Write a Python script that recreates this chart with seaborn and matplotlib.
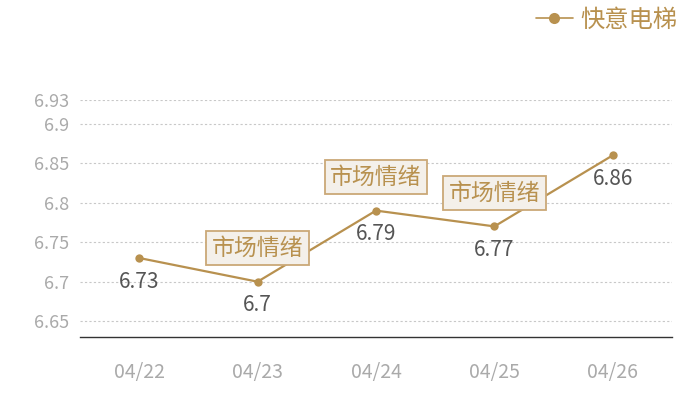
import matplotlib
matplotlib.use("Agg")
import matplotlib.pyplot as plt
import seaborn as sns
import pandas as pd
from matplotlib.lines import Line2D

dates = ["04/22", "04/23", "04/24", "04/25", "04/26"]
values = [6.73, 6.70, 6.79, 6.77, 6.86]
series_name = "快意电梯"
yticks = [6.65, 6.7, 6.75, 6.8, 6.85, 6.9, 6.93]
ytick_labels = ["6.65", "6.7", "6.75", "6.8", "6.85", "6.9", "6.93"]
note_dates = ["04/23", "04/24", "04/25"]
note_text = "市场情绪"

sns.set_theme(style="white")
plt.rcParams['font.family'] = ['Noto Sans CJK SC', 'DejaVu Sans']

gold = "#b8914f"
df = pd.DataFrame({"date": dates, "value": values, "series": series_name})
df["x"] = range(len(dates))

fig = plt.figure(figsize=(7, 4), dpi=100)
ax = fig.add_axes([80/700, 63/400, 592/700, 237/400])

sns.lineplot(data=df, x="x", y="value", hue="series", palette=[gold], marker="o",
             markersize=6, markeredgewidth=0, linewidth=1.6, ax=ax, legend=False)

ax.set_xlim(-0.5, len(dates) - 0.5)
ax.set_ylim(6.63, 6.93)
ax.set_yticks(yticks)
ax.set_yticklabels(ytick_labels)
ax.set_xticks(range(len(dates)))
ax.set_xticklabels(dates)
ax.tick_params(axis="y", colors="#aaaaaa", labelsize=13, length=0, pad=8)
ax.tick_params(axis="x", colors="#aaaaaa", labelsize=14, length=0, pad=18)
ax.set_xlabel("")
ax.set_ylabel("")
for yv in yticks:
    ax.axhline(yv, color="#c8c8c8", linestyle=(0, (2, 2)), linewidth=0.8, zorder=0)
for s in ["top", "right", "left"]:
    ax.spines[s].set_visible(False)
ax.spines["bottom"].set_color("#333333")
ax.spines["bottom"].set_linewidth(1)

for i, v in enumerate(values):
    ax.annotate(f"{v:g}", (i, v), xytext=(0, -17), textcoords="offset points",
                ha="center", va="center", fontsize=15, color="#555555")

for d in note_dates:
    i = dates.index(d)
    ax.annotate(note_text, (i, values[i]), xytext=(0, 24), textcoords="offset points",
                ha="center", va="center", fontsize=16.5, color=gold,
                bbox=dict(boxstyle="square,pad=0.24", fc="#f4f0ea", ec="#caa877", lw=1.3))

h = Line2D([0], [0], color=gold, marker="o", markersize=8, markeredgewidth=0, linewidth=1.2)
leg = fig.legend([h], [series_name], loc="upper right", bbox_to_anchor=(0.988, 1.02),
                 frameon=False, fontsize=17.5, handlelength=1.5, handletextpad=0.3,
                 borderaxespad=0.2)
for t in leg.get_texts():
    t.set_color(gold)

fig.savefig("out.png", dpi=100)
